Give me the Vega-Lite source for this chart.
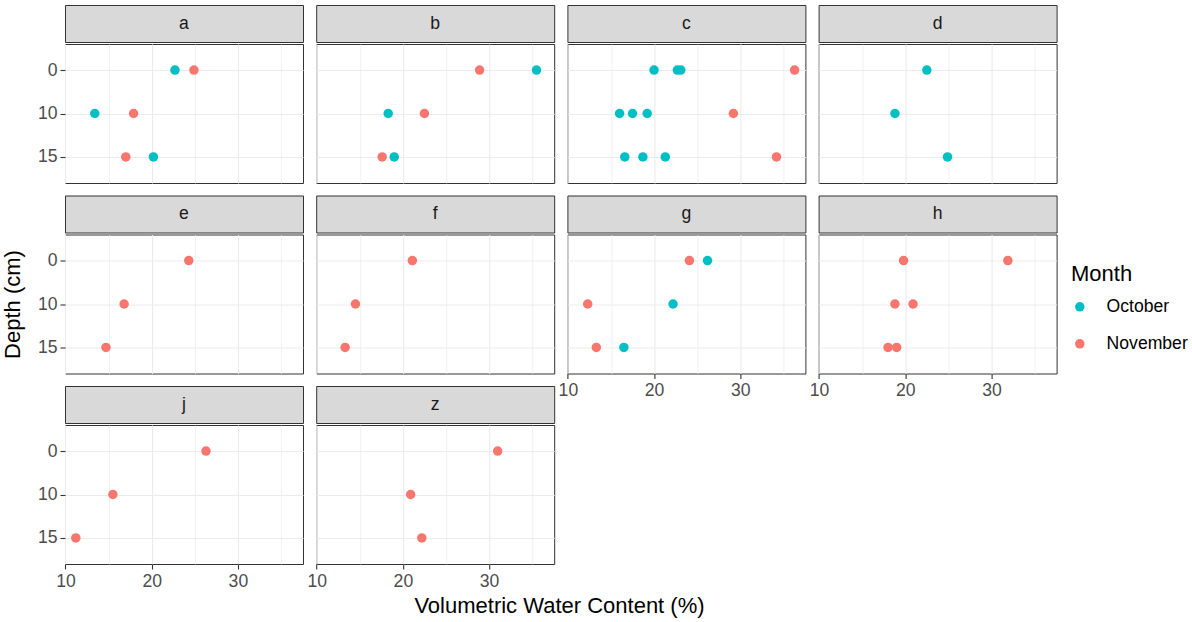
{
  "$schema": "https://vega.github.io/schema/vega-lite/v6.json",
  "padding": {"left": 0, "top": 4, "right": 0, "bottom": 0},
  "background": "white",
  "datasets": {
    "vwc": [
      {"site": "a", "month": "October", "depth": 0, "vwc": 22.7},
      {"site": "a", "month": "November", "depth": 0, "vwc": 24.9},
      {"site": "a", "month": "October", "depth": 10, "vwc": 13.4},
      {"site": "a", "month": "November", "depth": 10, "vwc": 17.9},
      {"site": "a", "month": "November", "depth": 15, "vwc": 17.0},
      {"site": "a", "month": "October", "depth": 15, "vwc": 20.2},
      {"site": "b", "month": "November", "depth": 0, "vwc": 28.9},
      {"site": "b", "month": "October", "depth": 0, "vwc": 35.5},
      {"site": "b", "month": "October", "depth": 10, "vwc": 18.3},
      {"site": "b", "month": "November", "depth": 10, "vwc": 22.5},
      {"site": "b", "month": "November", "depth": 15, "vwc": 17.6},
      {"site": "b", "month": "October", "depth": 15, "vwc": 19.0},
      {"site": "c", "month": "October", "depth": 0, "vwc": 20.0},
      {"site": "c", "month": "October", "depth": 0, "vwc": 22.7},
      {"site": "c", "month": "October", "depth": 0, "vwc": 23.1},
      {"site": "c", "month": "November", "depth": 0, "vwc": 36.3},
      {"site": "c", "month": "October", "depth": 10, "vwc": 16.0},
      {"site": "c", "month": "October", "depth": 10, "vwc": 17.5},
      {"site": "c", "month": "October", "depth": 10, "vwc": 19.2},
      {"site": "c", "month": "November", "depth": 10, "vwc": 29.2},
      {"site": "c", "month": "October", "depth": 15, "vwc": 16.6},
      {"site": "c", "month": "October", "depth": 15, "vwc": 18.7},
      {"site": "c", "month": "October", "depth": 15, "vwc": 21.3},
      {"site": "c", "month": "November", "depth": 15, "vwc": 34.2},
      {"site": "d", "month": "October", "depth": 0, "vwc": 22.5},
      {"site": "d", "month": "October", "depth": 10, "vwc": 18.8},
      {"site": "d", "month": "October", "depth": 15, "vwc": 24.9},
      {"site": "e", "month": "November", "depth": 0, "vwc": 24.3},
      {"site": "e", "month": "November", "depth": 10, "vwc": 16.8},
      {"site": "e", "month": "November", "depth": 15, "vwc": 14.7},
      {"site": "f", "month": "November", "depth": 0, "vwc": 21.1},
      {"site": "f", "month": "November", "depth": 10, "vwc": 14.5},
      {"site": "f", "month": "November", "depth": 15, "vwc": 13.3},
      {"site": "g", "month": "November", "depth": 0, "vwc": 24.1},
      {"site": "g", "month": "October", "depth": 0, "vwc": 26.2},
      {"site": "g", "month": "November", "depth": 10, "vwc": 12.3},
      {"site": "g", "month": "October", "depth": 10, "vwc": 22.2},
      {"site": "g", "month": "November", "depth": 15, "vwc": 13.3},
      {"site": "g", "month": "October", "depth": 15, "vwc": 16.5},
      {"site": "h", "month": "November", "depth": 0, "vwc": 19.8},
      {"site": "h", "month": "November", "depth": 0, "vwc": 31.9},
      {"site": "h", "month": "November", "depth": 10, "vwc": 18.8},
      {"site": "h", "month": "November", "depth": 10, "vwc": 20.9},
      {"site": "h", "month": "November", "depth": 15, "vwc": 18.0},
      {"site": "h", "month": "November", "depth": 15, "vwc": 19.0},
      {"site": "j", "month": "November", "depth": 0, "vwc": 26.3},
      {"site": "j", "month": "November", "depth": 10, "vwc": 15.5},
      {"site": "j", "month": "November", "depth": 15, "vwc": 11.2},
      {"site": "z", "month": "November", "depth": 0, "vwc": 31.0},
      {"site": "z", "month": "November", "depth": 10, "vwc": 20.9},
      {"site": "z", "month": "November", "depth": 15, "vwc": 22.2}
    ]
  },
  "title": {
    "text": "Volumetric Water Content (%)",
    "orient": "bottom",
    "anchor": "middle",
    "frame": "bounds",
    "offset": 6,
    "dx": -35,
    "font": "Liberation Sans",
    "fontSize": 22,
    "fontWeight": "normal",
    "color": "#000000"
  },
  "spacing": 2.2,
  "bounds": "full",
  "hconcat": [
    {"spacing": 10.5, "vconcat": [
      {"spacing": 0, "vconcat": [
        {"width": 238, "height": 37, "view": {"fill": "#d9d9d9", "stroke": "#333333"}, "data": {"name": "vwc"},
         "transform": [{"filter": "datum.site === 'a'"}, {"aggregate": [{"op": "count", "as": "n"}], "groupby": ["site"]}],
         "mark": {"type": "text", "fontSize": 17.6, "color": "#1a1a1a", "font": "Liberation Sans"},
         "encoding": {"text": {"field": "site"}}},
        {"width": 238, "height": 139, "view": {"fill": "white", "stroke": "#333333"}, "data": {"name": "vwc"},
         "transform": [{"filter": "datum.site === 'a'"}],
         "mark": {"type": "circle", "size": 90, "opacity": 1},
         "encoding": {
           "x": {"field": "vwc", "type": "quantitative", "scale": {"domain": [9.945, 37.555], "nice": false, "zero": false},
                 "axis": {"values": [10, 15, 20, 25, 30, 35], "grid": true, "labels": false, "ticks": false, "title": null,
                          "gridWidth": {"condition": {"test": "datum.value % 10 === 0", "value": 1.1}, "value": 0.7}}},
           "y": {"field": "depth", "type": "ordinal", "scale": {"type": "point", "padding": 0.6},
                 "axis": {"grid": true, "title": null}},
           "color": {"field": "month", "type": "nominal", "title": "Month", "scale": {"domain": ["October", "November"], "range": ["#00BFC4", "#F8766D"]}}
         }}
      ]},
      {"spacing": 0, "vconcat": [
        {"width": 238, "height": 37, "view": {"fill": "#d9d9d9", "stroke": "#333333"}, "data": {"name": "vwc"},
         "transform": [{"filter": "datum.site === 'e'"}, {"aggregate": [{"op": "count", "as": "n"}], "groupby": ["site"]}],
         "mark": {"type": "text", "fontSize": 17.6, "color": "#1a1a1a", "font": "Liberation Sans"},
         "encoding": {"text": {"field": "site"}}},
        {"width": 238, "height": 139, "view": {"fill": "white", "stroke": "#333333"}, "data": {"name": "vwc"},
         "transform": [{"filter": "datum.site === 'e'"}],
         "mark": {"type": "circle", "size": 90, "opacity": 1},
         "encoding": {
           "x": {"field": "vwc", "type": "quantitative", "scale": {"domain": [9.945, 37.555], "nice": false, "zero": false},
                 "axis": {"values": [10, 15, 20, 25, 30, 35], "grid": true, "labels": false, "ticks": false, "title": null,
                          "gridWidth": {"condition": {"test": "datum.value % 10 === 0", "value": 1.1}, "value": 0.7}}},
           "y": {"field": "depth", "type": "ordinal", "scale": {"type": "point", "padding": 0.6},
                 "axis": {"grid": true, "title": "Depth (cm)"}},
           "color": {"field": "month", "type": "nominal", "title": "Month", "scale": {"domain": ["October", "November"], "range": ["#00BFC4", "#F8766D"]}}
         }}
      ]},
      {"spacing": 0, "vconcat": [
        {"width": 238, "height": 37, "view": {"fill": "#d9d9d9", "stroke": "#333333"}, "data": {"name": "vwc"},
         "transform": [{"filter": "datum.site === 'j'"}, {"aggregate": [{"op": "count", "as": "n"}], "groupby": ["site"]}],
         "mark": {"type": "text", "fontSize": 17.6, "color": "#1a1a1a", "font": "Liberation Sans"},
         "encoding": {"text": {"field": "site"}}},
        {"width": 238, "height": 139, "view": {"fill": "white", "stroke": "#333333"}, "data": {"name": "vwc"},
         "transform": [{"filter": "datum.site === 'j'"}],
         "mark": {"type": "circle", "size": 90, "opacity": 1},
         "encoding": {
           "x": {"field": "vwc", "type": "quantitative", "scale": {"domain": [9.945, 37.555], "nice": false, "zero": false},
                 "axis": {"values": [10, 15, 20, 25, 30, 35], "grid": true, "title": null,
                          "labelExpr": "datum.value % 10 === 0 ? datum.label : ''",
                          "tickOpacity": {"condition": {"test": "datum.value % 10 === 0", "value": 1}, "value": 0},
                          "gridWidth": {"condition": {"test": "datum.value % 10 === 0", "value": 1.1}, "value": 0.7}}},
           "y": {"field": "depth", "type": "ordinal", "scale": {"type": "point", "padding": 0.6},
                 "axis": {"grid": true, "title": null}},
           "color": {"field": "month", "type": "nominal", "title": "Month", "scale": {"domain": ["October", "November"], "range": ["#00BFC4", "#F8766D"]}}
         }}
      ]}
    ]},
    {"spacing": 10.5, "vconcat": [
      {"spacing": 0, "vconcat": [
        {"width": 238, "height": 37, "view": {"fill": "#d9d9d9", "stroke": "#333333"}, "data": {"name": "vwc"},
         "transform": [{"filter": "datum.site === 'b'"}, {"aggregate": [{"op": "count", "as": "n"}], "groupby": ["site"]}],
         "mark": {"type": "text", "fontSize": 17.6, "color": "#1a1a1a", "font": "Liberation Sans"},
         "encoding": {"text": {"field": "site"}}},
        {"width": 238, "height": 139, "view": {"fill": "white", "stroke": "#333333"}, "data": {"name": "vwc"},
         "transform": [{"filter": "datum.site === 'b'"}],
         "mark": {"type": "circle", "size": 90, "opacity": 1},
         "encoding": {
           "x": {"field": "vwc", "type": "quantitative", "scale": {"domain": [9.945, 37.555], "nice": false, "zero": false},
                 "axis": {"values": [10, 15, 20, 25, 30, 35], "grid": true, "labels": false, "ticks": false, "title": null,
                          "gridWidth": {"condition": {"test": "datum.value % 10 === 0", "value": 1.1}, "value": 0.7}}},
           "y": {"field": "depth", "type": "ordinal", "scale": {"type": "point", "padding": 0.6},
                 "axis": {"grid": true, "labels": false, "ticks": false, "title": null}},
           "color": {"field": "month", "type": "nominal", "title": "Month", "scale": {"domain": ["October", "November"], "range": ["#00BFC4", "#F8766D"]}}
         }}
      ]},
      {"spacing": 0, "vconcat": [
        {"width": 238, "height": 37, "view": {"fill": "#d9d9d9", "stroke": "#333333"}, "data": {"name": "vwc"},
         "transform": [{"filter": "datum.site === 'f'"}, {"aggregate": [{"op": "count", "as": "n"}], "groupby": ["site"]}],
         "mark": {"type": "text", "fontSize": 17.6, "color": "#1a1a1a", "font": "Liberation Sans"},
         "encoding": {"text": {"field": "site"}}},
        {"width": 238, "height": 139, "view": {"fill": "white", "stroke": "#333333"}, "data": {"name": "vwc"},
         "transform": [{"filter": "datum.site === 'f'"}],
         "mark": {"type": "circle", "size": 90, "opacity": 1},
         "encoding": {
           "x": {"field": "vwc", "type": "quantitative", "scale": {"domain": [9.945, 37.555], "nice": false, "zero": false},
                 "axis": {"values": [10, 15, 20, 25, 30, 35], "grid": true, "labels": false, "ticks": false, "title": null,
                          "gridWidth": {"condition": {"test": "datum.value % 10 === 0", "value": 1.1}, "value": 0.7}}},
           "y": {"field": "depth", "type": "ordinal", "scale": {"type": "point", "padding": 0.6},
                 "axis": {"grid": true, "labels": false, "ticks": false, "title": null}},
           "color": {"field": "month", "type": "nominal", "title": "Month", "scale": {"domain": ["October", "November"], "range": ["#00BFC4", "#F8766D"]}}
         }}
      ]},
      {"spacing": 0, "vconcat": [
        {"width": 238, "height": 37, "view": {"fill": "#d9d9d9", "stroke": "#333333"}, "data": {"name": "vwc"},
         "transform": [{"filter": "datum.site === 'z'"}, {"aggregate": [{"op": "count", "as": "n"}], "groupby": ["site"]}],
         "mark": {"type": "text", "fontSize": 17.6, "color": "#1a1a1a", "font": "Liberation Sans"},
         "encoding": {"text": {"field": "site"}}},
        {"width": 238, "height": 139, "view": {"fill": "white", "stroke": "#333333"}, "data": {"name": "vwc"},
         "transform": [{"filter": "datum.site === 'z'"}],
         "mark": {"type": "circle", "size": 90, "opacity": 1},
         "encoding": {
           "x": {"field": "vwc", "type": "quantitative", "scale": {"domain": [9.945, 37.555], "nice": false, "zero": false},
                 "axis": {"values": [10, 15, 20, 25, 30, 35], "grid": true, "title": null,
                          "labelExpr": "datum.value % 10 === 0 ? datum.label : ''",
                          "tickOpacity": {"condition": {"test": "datum.value % 10 === 0", "value": 1}, "value": 0},
                          "gridWidth": {"condition": {"test": "datum.value % 10 === 0", "value": 1.1}, "value": 0.7}}},
           "y": {"field": "depth", "type": "ordinal", "scale": {"type": "point", "padding": 0.6},
                 "axis": {"grid": true, "labels": false, "ticks": false, "title": null}},
           "color": {"field": "month", "type": "nominal", "title": "Month", "scale": {"domain": ["October", "November"], "range": ["#00BFC4", "#F8766D"]}}
         }}
      ]}
    ]},
    {"spacing": 10.5, "vconcat": [
      {"spacing": 0, "vconcat": [
        {"width": 238, "height": 37, "view": {"fill": "#d9d9d9", "stroke": "#333333"}, "data": {"name": "vwc"},
         "transform": [{"filter": "datum.site === 'c'"}, {"aggregate": [{"op": "count", "as": "n"}], "groupby": ["site"]}],
         "mark": {"type": "text", "fontSize": 17.6, "color": "#1a1a1a", "font": "Liberation Sans"},
         "encoding": {"text": {"field": "site"}}},
        {"width": 238, "height": 139, "view": {"fill": "white", "stroke": "#333333"}, "data": {"name": "vwc"},
         "transform": [{"filter": "datum.site === 'c'"}],
         "mark": {"type": "circle", "size": 90, "opacity": 1},
         "encoding": {
           "x": {"field": "vwc", "type": "quantitative", "scale": {"domain": [9.945, 37.555], "nice": false, "zero": false},
                 "axis": {"values": [10, 15, 20, 25, 30, 35], "grid": true, "labels": false, "ticks": false, "title": null,
                          "gridWidth": {"condition": {"test": "datum.value % 10 === 0", "value": 1.1}, "value": 0.7}}},
           "y": {"field": "depth", "type": "ordinal", "scale": {"type": "point", "padding": 0.6},
                 "axis": {"grid": true, "labels": false, "ticks": false, "title": null}},
           "color": {"field": "month", "type": "nominal", "title": "Month", "scale": {"domain": ["October", "November"], "range": ["#00BFC4", "#F8766D"]}}
         }}
      ]},
      {"spacing": 0, "vconcat": [
        {"width": 238, "height": 37, "view": {"fill": "#d9d9d9", "stroke": "#333333"}, "data": {"name": "vwc"},
         "transform": [{"filter": "datum.site === 'g'"}, {"aggregate": [{"op": "count", "as": "n"}], "groupby": ["site"]}],
         "mark": {"type": "text", "fontSize": 17.6, "color": "#1a1a1a", "font": "Liberation Sans"},
         "encoding": {"text": {"field": "site"}}},
        {"width": 238, "height": 139, "view": {"fill": "white", "stroke": "#333333"}, "data": {"name": "vwc"},
         "transform": [{"filter": "datum.site === 'g'"}],
         "mark": {"type": "circle", "size": 90, "opacity": 1},
         "encoding": {
           "x": {"field": "vwc", "type": "quantitative", "scale": {"domain": [9.945, 37.555], "nice": false, "zero": false},
                 "axis": {"values": [10, 15, 20, 25, 30, 35], "grid": true, "title": null,
                          "labelExpr": "datum.value % 10 === 0 ? datum.label : ''",
                          "tickOpacity": {"condition": {"test": "datum.value % 10 === 0", "value": 1}, "value": 0},
                          "gridWidth": {"condition": {"test": "datum.value % 10 === 0", "value": 1.1}, "value": 0.7}}},
           "y": {"field": "depth", "type": "ordinal", "scale": {"type": "point", "padding": 0.6},
                 "axis": {"grid": true, "labels": false, "ticks": false, "title": null}},
           "color": {"field": "month", "type": "nominal", "title": "Month", "scale": {"domain": ["October", "November"], "range": ["#00BFC4", "#F8766D"]}}
         }}
      ]}
    ]},
    {"spacing": 10.5, "vconcat": [
      {"spacing": 0, "vconcat": [
        {"width": 238, "height": 37, "view": {"fill": "#d9d9d9", "stroke": "#333333"}, "data": {"name": "vwc"},
         "transform": [{"filter": "datum.site === 'd'"}, {"aggregate": [{"op": "count", "as": "n"}], "groupby": ["site"]}],
         "mark": {"type": "text", "fontSize": 17.6, "color": "#1a1a1a", "font": "Liberation Sans"},
         "encoding": {"text": {"field": "site"}}},
        {"width": 238, "height": 139, "view": {"fill": "white", "stroke": "#333333"}, "data": {"name": "vwc"},
         "transform": [{"filter": "datum.site === 'd'"}],
         "mark": {"type": "circle", "size": 90, "opacity": 1},
         "encoding": {
           "x": {"field": "vwc", "type": "quantitative", "scale": {"domain": [9.945, 37.555], "nice": false, "zero": false},
                 "axis": {"values": [10, 15, 20, 25, 30, 35], "grid": true, "labels": false, "ticks": false, "title": null,
                          "gridWidth": {"condition": {"test": "datum.value % 10 === 0", "value": 1.1}, "value": 0.7}}},
           "y": {"field": "depth", "type": "ordinal", "scale": {"type": "point", "padding": 0.6},
                 "axis": {"grid": true, "labels": false, "ticks": false, "title": null}},
           "color": {"field": "month", "type": "nominal", "title": "Month", "scale": {"domain": ["October", "November"], "range": ["#00BFC4", "#F8766D"]}}
         }}
      ]},
      {"spacing": 0, "vconcat": [
        {"width": 238, "height": 37, "view": {"fill": "#d9d9d9", "stroke": "#333333"}, "data": {"name": "vwc"},
         "transform": [{"filter": "datum.site === 'h'"}, {"aggregate": [{"op": "count", "as": "n"}], "groupby": ["site"]}],
         "mark": {"type": "text", "fontSize": 17.6, "color": "#1a1a1a", "font": "Liberation Sans"},
         "encoding": {"text": {"field": "site"}}},
        {"width": 238, "height": 139, "view": {"fill": "white", "stroke": "#333333"}, "data": {"name": "vwc"},
         "transform": [{"filter": "datum.site === 'h'"}],
         "mark": {"type": "circle", "size": 90, "opacity": 1},
         "encoding": {
           "x": {"field": "vwc", "type": "quantitative", "scale": {"domain": [9.945, 37.555], "nice": false, "zero": false},
                 "axis": {"values": [10, 15, 20, 25, 30, 35], "grid": true, "title": null,
                          "labelExpr": "datum.value % 10 === 0 ? datum.label : ''",
                          "tickOpacity": {"condition": {"test": "datum.value % 10 === 0", "value": 1}, "value": 0},
                          "gridWidth": {"condition": {"test": "datum.value % 10 === 0", "value": 1.1}, "value": 0.7}}},
           "y": {"field": "depth", "type": "ordinal", "scale": {"type": "point", "padding": 0.6},
                 "axis": {"grid": true, "labels": false, "ticks": false, "title": null}},
           "color": {"field": "month", "type": "nominal", "title": "Month", "scale": {"domain": ["October", "November"], "range": ["#00BFC4", "#F8766D"]}}
         }}
      ]}
    ]}
  ],
  "config": {
    "font": "Liberation Sans",
    "axis": {
      "domain": false,
      "gridColor": "#ebebeb",
      "tickColor": "#333333",
      "tickSize": 5,
      "tickWidth": 1.1,
      "labelFont": "Liberation Sans",
      "labelFontSize": 17.6,
      "labelColor": "#4d4d4d",
      "labelPadding": 3,
      "labelFlush": false,
      "labelOverlap": false,
      "titleFont": "Liberation Sans",
      "titleFontSize": 22,
      "titleFontWeight": "normal",
      "titleColor": "#000000",
      "titlePadding": 13
    },
    "legend": {
      "orient": "none",
      "legendX": 1006,
      "legendY": 259,
      "symbolType": "circle",
      "symbolSize": 90,
      "symbolStrokeWidth": 0,
      "titleFont": "Liberation Sans",
      "titleFontSize": 22,
      "titleFontWeight": "normal",
      "titleColor": "#000000",
      "titlePadding": 12,
      "labelFont": "Liberation Sans",
      "labelFontSize": 17.6,
      "labelColor": "#000000",
      "labelOffset": 18,
      "rowPadding": 18
    }
  }
}
